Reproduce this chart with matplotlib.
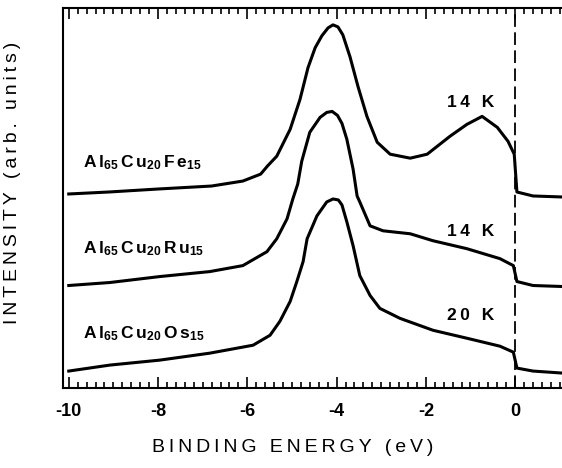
import numpy as np
import matplotlib
matplotlib.use("Agg")
import matplotlib.pyplot as plt
from matplotlib.ticker import MultipleLocator

plt.rcParams['font.family'] = ['Liberation Sans', 'DejaVu Sans']
plt.rcParams['mathtext.fontset'] = 'custom'
plt.rcParams['mathtext.rm'] = 'Liberation Sans'
plt.rcParams['mathtext.bf'] = 'Liberation Sans:bold'

# photoemission spectra (intensity in arb. units)
fe_e = [-10.0, -9.1, -8.0, -6.8, -6.1, -5.7, -5.55, -5.34, -5.04, -4.82, -4.64, -4.48,
        -4.33, -4.19, -4.08, -3.97, -3.86, -3.70, -3.52, -3.32, -3.09, -2.80, -2.35,
        -1.97, -1.46, -1.08, -0.74, -0.40, -0.16, -0.02, 0.04, 0.40, 1.05]
fe_i = [195, 197, 200, 203, 208, 215, 223, 233, 260, 290, 322, 342,
        354, 362, 365, 363, 355, 333, 303, 273, 247, 235, 231,
        235, 253, 265, 273, 262, 248, 235, 197, 193, 192]

ru_e = [-10.0, -9.08, -7.96, -6.84, -6.10, -5.56, -5.34, -5.11, -4.98, -4.87, -4.78,
        -4.60, -4.37, -4.22, -4.10, -3.98, -3.88, -3.77, -3.63, -3.54, -3.48, -3.25,
        -2.96, -2.35, -1.84, -1.08, -0.34, -0.04, 0.04, 0.40, 1.05]
ru_i = [103, 106, 112, 117, 123, 137, 150, 170, 190, 205, 228,
        257, 272, 277, 278, 274, 266, 250, 220, 193, 187, 163,
        158, 155, 148, 140, 130, 123, 107, 103, 102]

os_e = [-10.0, -9.08, -7.96, -6.84, -5.87, -5.49, -5.27, -5.04, -4.89, -4.75, -4.66,
        -4.44, -4.22, -4.08, -3.96, -3.88, -3.77, -3.63, -3.48, -3.25, -3.03, -2.58,
        -1.84, -1.08, -0.34, -0.04, 0.04, 0.40, 1.05]
os_i = [17, 23, 28, 35, 43, 53, 67, 87, 107, 127, 150,
        173, 187, 190, 189, 184, 167, 143, 113, 93, 80, 70,
        58, 50, 42, 36, 20, 17, 15]

names = [r'$\mathbf{A\,l_{65}\,C\,u_{20}\,F\,e_{15}}$',
         r'$\mathbf{A\,l_{65}\,C\,u_{20}\,R\,u_{15}}$',
         r'$\mathbf{A\,l_{65}\,C\,u_{20}\,O\,s_{15}}$']
temps = ['14 K', '14 K', '20 K']
name_y = [227, 140, 55]
temp_y = [287, 157, 73]


def spaced(s):
    return '\u2009'.join(s)


fig = plt.figure(figsize=(5.62, 4.68), dpi=100)
ax = fig.add_axes([0.112, 0.171, 0.888, 0.812])

for e, i in [(fe_e, fe_i), (ru_e, ru_i), (os_e, os_i)]:
    ax.plot(e, i, color='black', lw=2.2, solid_joinstyle='round')

ax.axvline(0, color='black', lw=1.3, dashes=(7, 3))

for n, yn, t, yt in zip(names, name_y, temps, temp_y):
    ax.text(-9.69, yn, n, fontsize=12.5, ha='left', va='center')
    ax.text(-1.52, yt, spaced(t), fontsize=12.5, fontweight='bold', ha='left', va='center')

ax.set_xlim(-10.13, 1.05)
ax.set_ylim(0, 382)
ax.xaxis.set_major_locator(MultipleLocator(2))
ax.xaxis.set_minor_locator(MultipleLocator(0.2))
ax.tick_params(axis='x', which='both', direction='in', top=True, bottom=True, width=1.2)
ax.tick_params(axis='x', which='major', length=8, labelsize=13, pad=11)
ax.tick_params(axis='x', which='minor', length=4)
ax.set_yticks([])
ax.set_xticks(range(-10, 1, 2))
ax.set_xticklabels(['-10', '-8', '-6', '-4', '-2', '0'], fontweight='bold')
ax.spines['right'].set_visible(False)
for s in ['left', 'top', 'bottom']:
    ax.spines[s].set_linewidth(1.5)

ax.set_xlabel(spaced('BINDING ENERGY (eV)'), fontsize=14)
ax.set_ylabel(spaced('INTENSITY (arb. units)'), fontsize=14)
ax.xaxis.set_label_coords(0.46, -0.135)
ax.yaxis.set_label_coords(-0.085, 0.54)

fig.savefig('out.png', dpi=100)
